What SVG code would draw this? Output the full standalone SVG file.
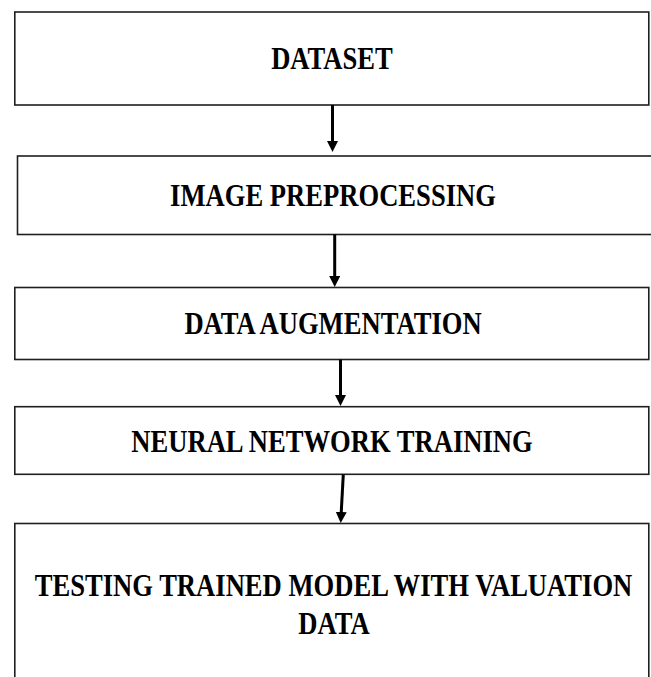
<svg xmlns="http://www.w3.org/2000/svg" width="651" height="677" viewBox="0 0 651 677">
  <style>
    .box { fill: #ffffff; stroke: #1f1f1f; stroke-width: 1.6; }
    .label { font-family: "Liberation Serif", "Times New Roman", serif; font-weight: bold; font-size: 26.6px; fill: #000000; text-anchor: middle; }
    .conn { stroke: #000000; stroke-width: 3; fill: none; marker-end: url(#arrow); }
  </style>
  <defs>
    <marker id="arrow" markerUnits="userSpaceOnUse" markerWidth="12" markerHeight="12" refX="1" refY="5.5" orient="auto">
      <path d="M0,0 L11,5.5 L0,11 z" fill="#000000"/>
    </marker>
  </defs>
  <rect x="0" y="0" width="651" height="677" fill="#ffffff"/>

  <g id="node-dataset">
    <rect class="box" x="14.8" y="12" width="634" height="93"/>
    <text class="label" transform="translate(332,69) scale(1,1.2)">DATASET</text>
  </g>
  <g id="node-image-preprocessing">
    <rect class="box" x="17.5" y="156" width="640" height="78.5"/>
    <text class="label" transform="translate(333,206) scale(1,1.2)">IMAGE PREPROCESSING</text>
  </g>
  <g id="node-data-augmentation">
    <rect class="box" x="14.8" y="287.5" width="634" height="72"/>
    <text class="label" transform="translate(333,334) scale(1,1.2)">DATA AUGMENTATION</text>
  </g>
  <g id="node-neural-network-training">
    <rect class="box" x="14.8" y="406.7" width="634" height="67.6"/>
    <text class="label" transform="translate(332,452) scale(1,1.2)">NEURAL NETWORK TRAINING</text>
  </g>
  <g id="node-testing">
    <rect class="box" x="14.8" y="523.5" width="634" height="170"/>
    <text class="label" transform="translate(333.5,596) scale(1,1.2)">TESTING TRAINED MODEL WITH VALUATION</text>
    <text class="label" transform="translate(334,634) scale(1,1.2)">DATA</text>
  </g>

  <g id="connectors">
    <line class="conn" x1="332.5" y1="105" x2="332.5" y2="142"/>
    <line class="conn" x1="334.7" y1="234.5" x2="334.7" y2="277"/>
    <line class="conn" x1="340.5" y1="359.5" x2="340.5" y2="396"/>
    <line class="conn" x1="343.3" y1="474.3" x2="341.2" y2="513"/>
  </g>
</svg>
